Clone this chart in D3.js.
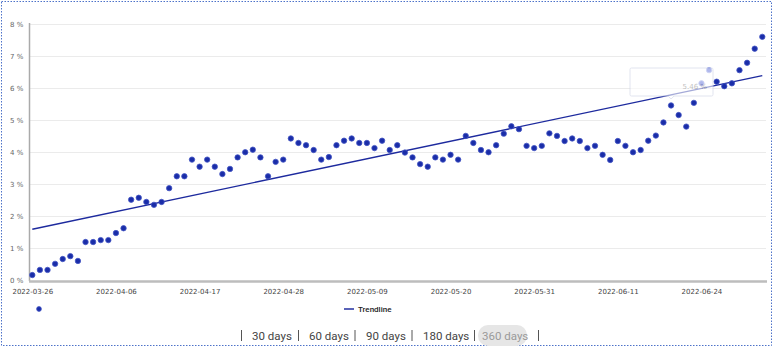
<!DOCTYPE html>
<html><head><meta charset="utf-8">
<script src="https://cdn.jsdelivr.net/npm/d3@7"></script>
<style>
html,body{margin:0;padding:0;background:#fff;}
svg{display:block;}
</style></head>
<body>
<svg id="c" width="778" height="350"></svg>
<script>
const dates = [
"2022-03-26","2022-03-27","2022-03-28","2022-03-29","2022-03-30","2022-03-31","2022-04-01","2022-04-02","2022-04-03","2022-04-04","2022-04-05",
"2022-04-06","2022-04-07","2022-04-08","2022-04-09","2022-04-10","2022-04-11","2022-04-12","2022-04-13","2022-04-14","2022-04-15","2022-04-16",
"2022-04-17","2022-04-18","2022-04-19","2022-04-20","2022-04-21","2022-04-22","2022-04-23","2022-04-24","2022-04-25","2022-04-26","2022-04-27",
"2022-04-28","2022-04-29","2022-04-30","2022-05-01","2022-05-02","2022-05-03","2022-05-04","2022-05-05","2022-05-06","2022-05-07","2022-05-08",
"2022-05-09","2022-05-10","2022-05-11","2022-05-12","2022-05-13","2022-05-14","2022-05-15","2022-05-16","2022-05-17","2022-05-18","2022-05-19",
"2022-05-20","2022-05-21","2022-05-22","2022-05-23","2022-05-24","2022-05-25","2022-05-26","2022-05-27","2022-05-28","2022-05-29","2022-05-30",
"2022-05-31","2022-06-01","2022-06-02","2022-06-03","2022-06-04","2022-06-05","2022-06-06","2022-06-07","2022-06-08","2022-06-09","2022-06-10",
"2022-06-11","2022-06-12","2022-06-13","2022-06-14","2022-06-15","2022-06-16","2022-06-17","2022-06-20","2022-06-21","2022-06-22","2022-06-23",
"2022-06-24","2022-06-25","2022-06-26","2022-06-27","2022-06-28","2022-06-29","2022-06-30","2022-07-01","2022-07-02"
];
const values = [
0.17,0.33,0.33,0.52,0.67,0.76,0.61,1.20,1.20,1.26,1.26,
1.48,1.63,2.52,2.58,2.45,2.36,2.45,2.88,3.25,3.25,3.77,
3.55,3.77,3.55,3.32,3.48,3.84,4.00,4.08,3.84,3.25,3.70,
3.77,4.43,4.29,4.22,4.07,3.77,3.85,4.22,4.36,4.43,4.29,
4.29,4.13,4.36,4.07,4.22,3.99,3.84,3.63,3.55,3.84,3.77,
3.92,3.77,4.51,4.29,4.07,4.00,4.22,4.58,4.81,4.72,4.20,
4.13,4.20,4.59,4.51,4.35,4.43,4.35,4.13,4.20,3.92,3.76,
4.35,4.20,4.00,4.07,4.36,4.52,4.93,5.46,5.16,4.80,5.54,
6.15,6.56,6.20,6.06,6.15,6.56,6.79,7.23,7.60
];
const trendValues = [1.60, 6.39];
const yTicks = [0,1,2,3,4,5,6,7,8];
const xTickLabels = ["2022-03-26","2022-04-06","2022-04-17","2022-04-28","2022-05-09","2022-05-20","2022-05-31","2022-06-11","2022-06-24"];
const legendLabels = ["", "Trendline"];
const rangeButtons = ["30 days","60 days","90 days","180 days","360 days"];
const activeRange = "360 days";
const tooltipLabel = "5.46 %";

const svg = d3.select("#c");
const x = d3.scalePoint().domain(dates).range([32.3, 762.3]);
const y = d3.scaleLinear().domain([0, 8]).range([280.5, 24]);

// outer dotted border
svg.append("rect").attr("x",1.5).attr("y",1.5).attr("width",770).attr("height",344)
  .attr("fill","none").attr("stroke","#4d72c9").attr("stroke-width",1).attr("stroke-dasharray","1.5,1.5");

// gridlines
svg.append("g").selectAll("line").data(yTicks.filter(d=>d>0)).join("line")
  .attr("x1",29).attr("x2",766).attr("y1",d=>Math.round(y(d))+0.5).attr("y2",d=>Math.round(y(d))+0.5)
  .attr("stroke","#ebebeb").attr("stroke-width",1);

// y axis
const yAxis = d3.axisLeft(y).tickValues(yTicks).tickFormat(d=>d+" %").tickSize(0).tickPadding(7);
const gy = svg.append("g").attr("transform","translate(29,0)").call(yAxis);
gy.select(".domain").remove();
gy.selectAll("text").attr("font-family","DejaVu Sans, sans-serif").attr("font-size",7).attr("fill","#666")
  .attr("text-anchor","start").attr("x",-19);
svg.append("line").attr("x1",29.5).attr("x2",29.5).attr("y1",23).attr("y2",281).attr("stroke","#aaa").attr("stroke-width",1.5);

// x axis
const xAxis = d3.axisBottom(x).tickValues(xTickLabels).tickSize(0).tickPadding(8);
const gx = svg.append("g").attr("transform","translate(0,281)").call(xAxis);
gx.select(".domain").remove();
gx.selectAll("text").attr("font-family","DejaVu Sans, sans-serif").attr("font-size",7).attr("fill","#444");
svg.append("line").attr("x1",29).attr("x2",767).attr("y1",281.5).attr("y2",281.5).attr("stroke","#bdbdbd").attr("stroke-width",2.5);

// trendline
svg.append("line")
  .attr("x1",x(dates[0])).attr("y1",y(trendValues[0]))
  .attr("x2",x(dates[dates.length-1])).attr("y2",y(trendValues[1]))
  .attr("stroke","#1d2a9e").attr("stroke-width",1.4);

// points
svg.append("g").selectAll("circle").data(values).join("circle")
  .attr("cx",(d,i)=>x(dates[i])).attr("cy",d=>y(d)).attr("r",2.7)
  .attr("fill",(d,i)=> (i===88||i===89) ? "#3a4fd0" : "#1a2da8")
  .attr("stroke",(d,i)=> (i===88||i===89) ? "#8f9de6" : "#4455c4").attr("stroke-width",0.8);

// faded tooltip
const tipI = 84;
const tx = x(dates[tipI]);
const tip = svg.append("g").attr("opacity",0.6);
tip.append("rect").attr("x",630).attr("y",68).attr("width",83).attr("height",28).attr("rx",1.5)
  .attr("fill","#fff").attr("stroke","#cfd4e6").attr("stroke-width",1);
tip.append("text").attr("x",707).attr("y",89).attr("text-anchor","end")
  .attr("font-family","DejaVu Sans, sans-serif").attr("font-size",7).attr("fill","#999").text(tooltipLabel);
tip.append("path").attr("d",`M${tx-3},96 L${tx},99 L${tx+3},96`).attr("fill","#fff").attr("stroke","#cfd4e6");

// legend
const lg = svg.append("g");
lg.append("circle").attr("cx",39).attr("cy",309).attr("r",2.4).attr("fill","#1a2da8").attr("stroke","#4455c4").attr("stroke-width",0.8);
lg.append("line").attr("x1",344).attr("x2",354).attr("y1",309).attr("y2",309).attr("stroke","#5a63b8").attr("stroke-width",2);
lg.append("text").attr("x",358).attr("y",312).attr("font-family","Roboto, sans-serif").attr("font-size",8).attr("font-weight",500)
  .attr("fill","#222").text(legendLabels[1]);

// range buttons
const btnX = [252, 309, 366, 423, 482];
const pipeX = [241, 298, 354.5, 411.5, 474, 538];
const bg = svg.append("g").attr("font-family","Roboto, sans-serif").attr("font-size",11.5);
const ai = rangeButtons.indexOf(activeRange);
bg.append("rect").attr("x",btnX[ai]-4).attr("y",325).attr("width",49).attr("height",21).attr("rx",10)
  .attr("fill","#e6e6e6");
bg.selectAll("text.b").data(rangeButtons).join("text").attr("class","b")
  .attr("x",(d,i)=>btnX[i]).attr("y",340)
  .attr("fill",d=> d===activeRange ? "#9a9a9a" : "#444").text(d=>d);
bg.selectAll("line.p").data(pipeX).join("line").attr("class","p")
  .attr("x1",d=>d+0.5).attr("x2",d=>d+0.5).attr("y1",330).attr("y2",341)
  .attr("stroke","#555").attr("stroke-width",1);
</script>
</body></html>
